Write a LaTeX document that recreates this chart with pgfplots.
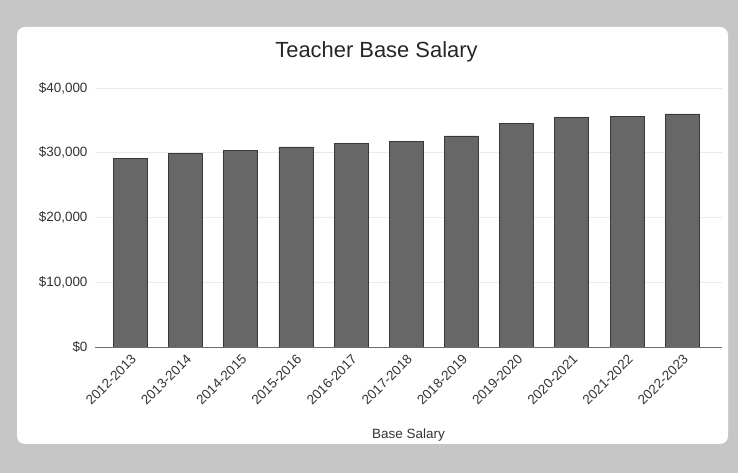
\documentclass[border=0pt]{standalone}
\usepackage{fontspec}
\setmainfont{Liberation Sans}
\usepackage{pgfplots}
\pgfplotsset{compat=1.18}
\definecolor{framegray}{HTML}{C6C6C6}
\definecolor{barfill}{HTML}{676767}
\definecolor{bardraw}{HTML}{383838}
\definecolor{txt}{HTML}{333333}
\definecolor{gridc}{HTML}{EAEAEA}
\definecolor{basec}{HTML}{6E6E6E}
\begin{document}
\begin{tikzpicture}
\fill[framegray] (0,0) rectangle (738bp,473bp);
\fill[white,rounded corners=8bp] (17bp,29bp) rectangle (728bp,446bp);
\begin{axis}[
  at={(95bp,126bp)}, anchor=south west,
  scale only axis, width=627bp, height=259bp,
  xmin=-0.64, xmax=10.72, ymin=0, ymax=40000,
  scaled y ticks=false,
  axis line style={draw=none},
  ybar, bar width=34bp,
  xtick=data,
  xticklabels={2012-2013,2013-2014,2014-2015,2015-2016,2016-2017,2017-2018,2018-2019,2019-2020,2020-2021,2021-2022,2022-2023},
  xticklabel shift=5bp,
  xticklabel style={rotate=45, anchor=north east, inner sep=1bp, font=\fontsize{13.5}{15}\selectfont, text=txt},
  ytick={0,10000,20000,30000,40000},
  yticklabels={\$0,{\$10,000},{\$20,000},{\$30,000},{\$40,000}},
  yticklabel style={font=\fontsize{13.5}{15}\selectfont, text=txt, anchor=east, xshift=-4bp},
  major tick length=0pt,
  ymajorgrids, grid style={gridc, line width=0.8pt},
  title={Teacher Base Salary},
  title style={at={(rel axis cs:0.5,1)}, anchor=center, yshift=30bp, xshift=-32bp, font=\fontsize{22}{26}\selectfont, text=black!85},
  xlabel={Base Salary},
  xlabel style={at={(rel axis cs:0.5,0)}, anchor=center, yshift=-88bp, font=\fontsize{13.5}{16}\selectfont, text=txt},
  clip=false,
]
\addplot[fill=barfill, draw=bardraw, line width=0.8pt] coordinates {
  (0,29100) (1,29900) (2,30400) (3,30900) (4,31400) (5,31800)
  (6,32600) (7,34500) (8,35400) (9,35600) (10,36000)
};
\draw[basec, line width=1pt] (rel axis cs:0,0) -- (rel axis cs:1,0);
\end{axis}
\end{tikzpicture}
\end{document}
